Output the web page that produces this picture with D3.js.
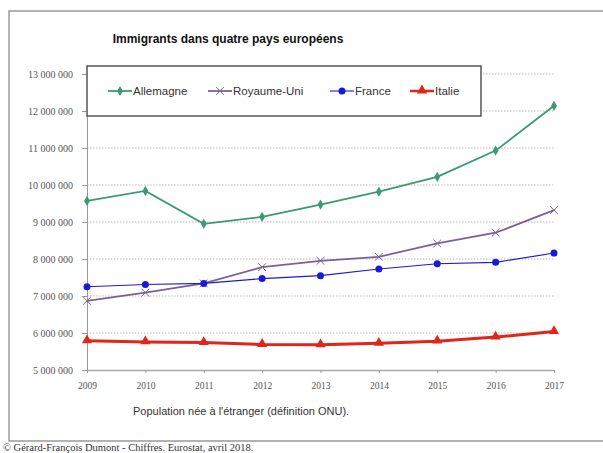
<!DOCTYPE html>
<html><head><meta charset="utf-8">
<script src="https://cdn.jsdelivr.net/npm/d3@7"></script>
<style>body{margin:0;background:#fff;}svg{display:block;}</style>
</head><body>
<script>
const years = [2009,2010,2011,2012,2013,2014,2015,2016,2017];
const allemagne = [9570000,9840000,8950000,9140000,9470000,9820000,10220000,10930000,12140000];
const royaumeUni = [6870000,7090000,7340000,7780000,7950000,8060000,8420000,8710000,9320000];
const france = [7250000,7310000,7340000,7470000,7550000,7730000,7870000,7910000,8160000];
const italie = [5790000,5760000,5740000,5690000,5680000,5720000,5780000,5890000,6040000];
const yTicks = [5000000,6000000,7000000,8000000,9000000,10000000,11000000,12000000,13000000];
const seriesNames = ["Allemagne","Royaume-Uni","France","Italie"];

const W=603,H=453;
const svg=d3.select("body").append("svg").attr("width",W).attr("height",H);
svg.append("rect").attr("x",9).attr("y",11).attr("width",620).attr("height",430)
  .attr("fill","#fff").attr("stroke","#999").attr("stroke-width",1.5);

const x=d3.scalePoint().domain(years).range([87,554]);
const y=d3.scaleLinear().domain([5000000,13000000]).range([370,74]);

// gridlines
svg.append("g").selectAll("line").data(yTicks.slice(1)).join("line")
  .attr("x1",87).attr("x2",555).attr("y1",d=>y(d)).attr("y2",d=>y(d))
  .attr("stroke","#bbb").attr("stroke-width",1).attr("stroke-dasharray","1.5,1.5");

// y axis
const ya=svg.append("g").attr("transform","translate(87,0)")
  .call(d3.axisLeft(y).tickValues(yTicks).tickSize(5).tickPadding(9).tickFormat(d=>d3.format(",")(d).replace(/,/g," ")));
ya.select(".domain").attr("stroke","#999");
ya.selectAll(".tick line").attr("stroke","#999");
ya.selectAll("text").attr("font-family","Liberation Serif").attr("font-size","10px").attr("fill","#555");

// x axis
const xa=svg.append("g").attr("transform","translate(0,370)")
  .call(d3.axisBottom(x).tickSize(3).tickPadding(9).tickSizeOuter(0));
xa.select(".domain").attr("stroke","#aaa").attr("stroke-width",1.5);
xa.selectAll(".tick line").attr("stroke","#999");
xa.selectAll("text").attr("font-family","Liberation Serif").attr("font-size","9.5px").attr("fill","#555");

const series=[
 {name:seriesNames[0],vals:allemagne,color:"#3c9a72",w:1.8,m:"diamond"},
 {name:seriesNames[1],vals:royaumeUni,color:"#7a609a",w:1.8,m:"cross"},
 {name:seriesNames[2],vals:france,color:"#1a1ad6",w:1.1,m:"circle"},
 {name:seriesNames[3],vals:italie,color:"#e0261a",w:3,m:"triangle"}
];
function marker(g,type,cx,cy,color){
  if(type==="diamond") g.append("path").attr("d",d3.symbol(d3.symbolDiamond,30)()).attr("transform",`translate(${cx},${cy})`).attr("fill",color);
  else if(type==="circle") g.append("circle").attr("cx",cx).attr("cy",cy).attr("r",3.5).attr("fill",color);
  else if(type==="triangle") g.append("path").attr("d",d3.symbol(d3.symbolTriangle,45)()).attr("transform",`translate(${cx},${cy-0.5})`).attr("fill",color);
  else if(type==="cross") g.append("path").attr("d",d3.symbol(d3.symbolTimes,40)()).attr("transform",`translate(${cx},${cy})`).attr("fill","none").attr("stroke",color).attr("stroke-width",1);
}
const line=d3.line().x((d,i)=>x(years[i])).y(d=>y(d));
series.forEach(s=>{
  const g=svg.append("g");
  g.append("path").attr("d",line(s.vals)).attr("fill","none").attr("stroke",s.color).attr("stroke-width",s.w);
  s.vals.forEach((v,i)=>marker(g,s.m,x(years[i]),y(v),s.color));
});

// legend
svg.append("rect").attr("x",87).attr("y",66).attr("width",394).attr("height",50)
  .attr("fill","#fff").attr("stroke","#555").attr("stroke-width",1.5);
const lx=[108,208,330,410];
series.forEach((s,i)=>{
  const g=svg.append("g");
  g.append("line").attr("x1",lx[i]).attr("x2",lx[i]+24).attr("y1",91).attr("y2",91).attr("stroke",s.color).attr("stroke-width",Math.min(s.w,2.5));
  marker(g,s.m,lx[i]+12,91,s.color);
  g.append("text").attr("x",lx[i]+25).attr("y",95).text(s.name)
    .attr("font-family","Liberation Sans").attr("font-size","11.5px").attr("fill","#333");
});

svg.append("text").attr("x",228).attr("y",43).attr("text-anchor","middle")
  .attr("font-family","Liberation Sans").attr("font-weight","bold").attr("font-size","12px").attr("fill","#111")
  .text("Immigrants dans quatre pays européens");
svg.append("text").attr("x",133).attr("y",415)
  .attr("font-family","Liberation Sans").attr("font-size","11px").attr("fill","#333")
  .text("Population née à l'étranger (définition ONU).");
svg.append("text").attr("x",3).attr("y",451)
  .attr("font-family","Liberation Serif").attr("font-size","10.5px").attr("fill","#333")
  .text("© Gérard-François Dumont - Chiffres. Eurostat, avril 2018.");
</script>
</body></html>
